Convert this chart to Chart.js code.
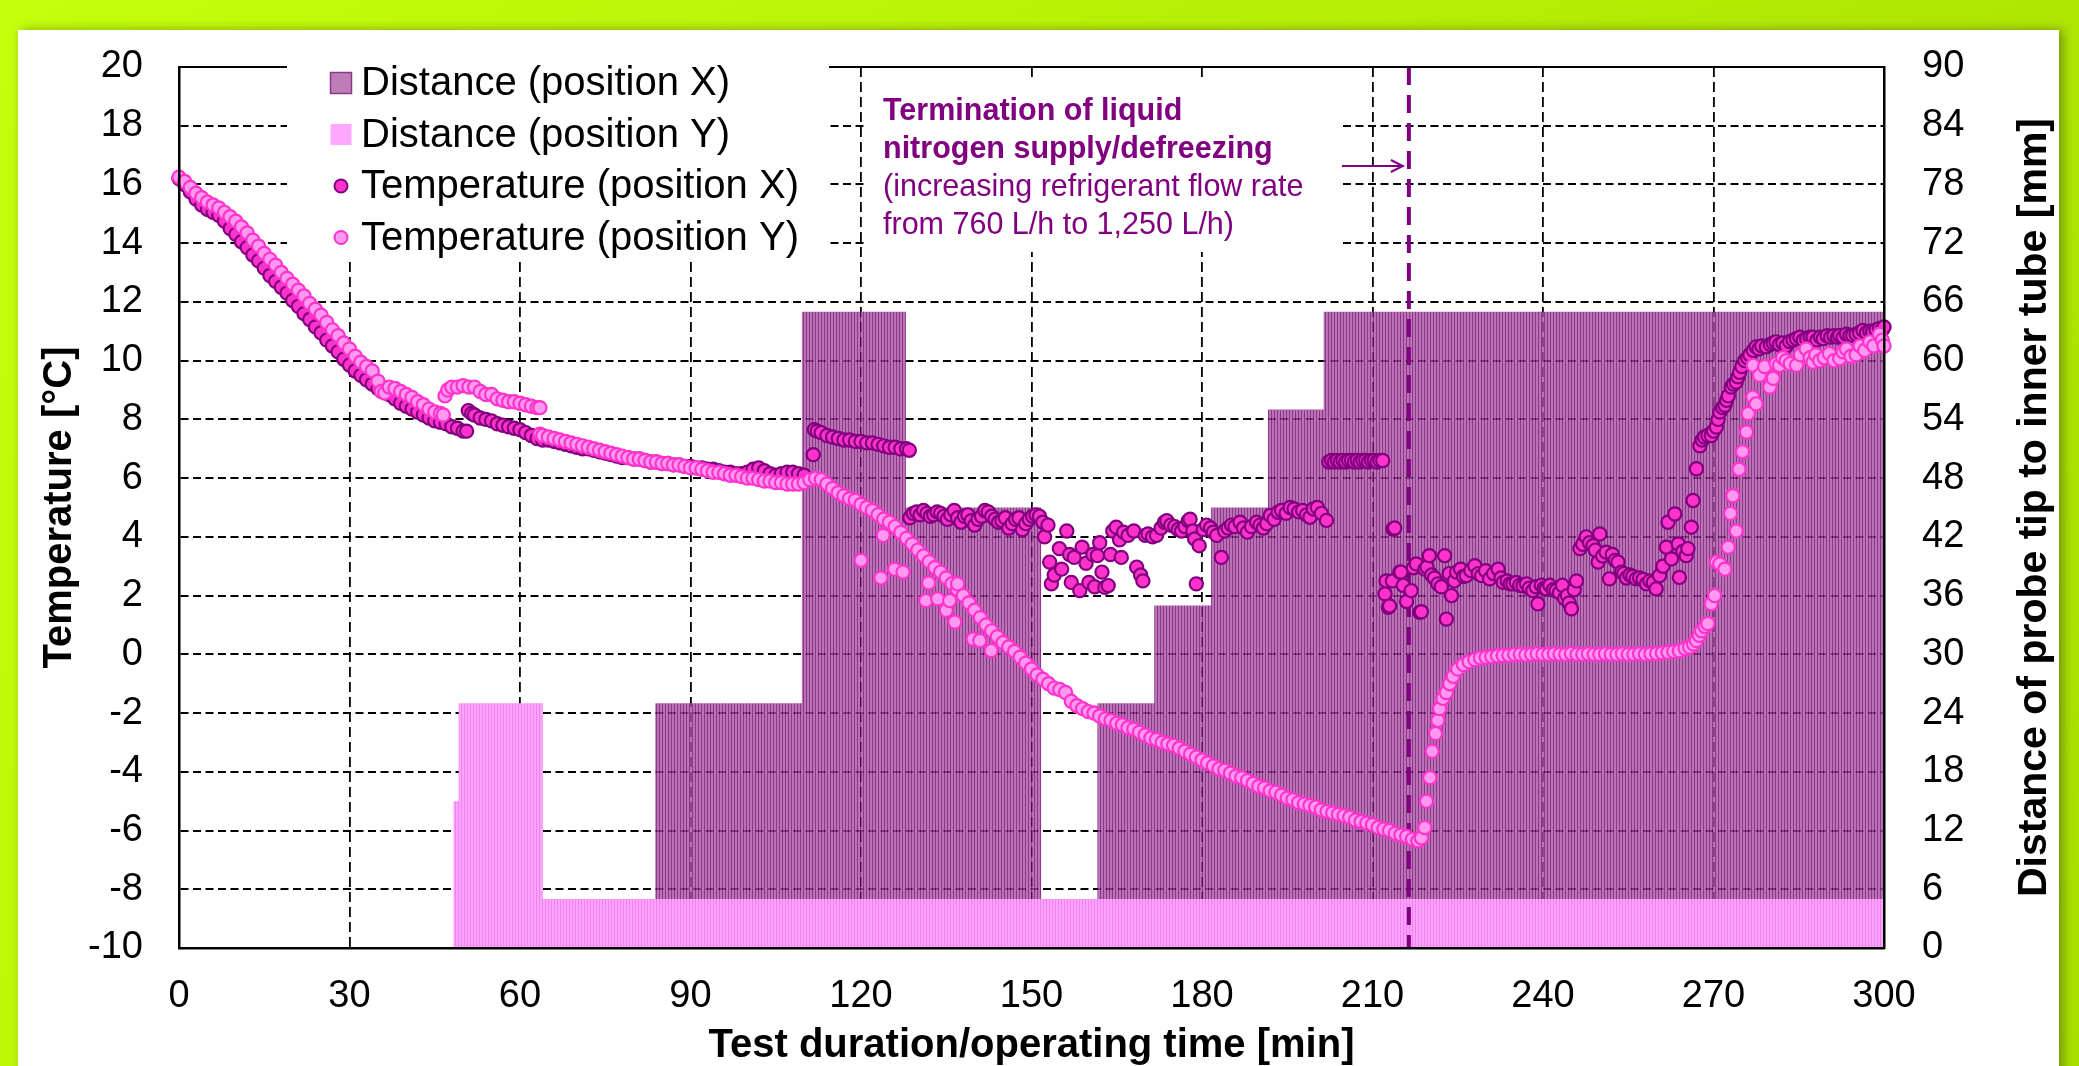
<!DOCTYPE html>
<html>
<head>
<meta charset="utf-8">
<title>Probe temperature and distance</title>
<script src="https://cdn.jsdelivr.net/npm/chart.js@4.4.1/dist/chart.umd.min.js"></script>
<style>
  html, body { margin: 0; padding: 0; background: #b8f000; }
  #wrap { position: relative; width: 2079px; height: 1066px; }
</style>
</head>
<body>
<div id="wrap"><canvas id="chart"></canvas></div>
<script>
// Distance of probe tip to inner tube [mm], step values (value holds until next time)
const distXTime = [0, 83.8, 109.6, 127.9, 151.7, 161.6, 171.6, 181.6, 191.6, 201.4, 300];
const distXmm   = [0, 25,   65,    45,    0,     25,    35,    45,    55,    65,    65];
const distYTime = [0, 48.3, 49.2, 64.0, 300];
const distYmm   = [0, 15,   25,   5,    5];

// End of liquid nitrogen supply [min]
const terminationTime = 216.4;

// Temperature at position X [min, °C]
const tempX = [
  [0,16.2],[1,16.0],[2,15.75],[3,15.5],[4,15.3],[5,15.15],[6,15.05],[7,14.95],[8,14.75],[9,14.5],
  [10,14.3],[11,14.05],[12,13.85],[13,13.6],[14,13.4],[15,13.15],[16,12.9],[17,12.7],[18,12.5],[19,12.3],
  [20,12.05],[21,11.85],[22,11.6],[23,11.4],[24,11.15],[25,10.95],[26,10.7],[27,10.5],[28,10.3],[29,10.05],
  [30,9.85],[31,9.65],[32,9.5],[33,9.35],[34,9.2],[35,9.05],[36,8.95],[37,8.85],[38,8.7],[39,8.55],
  [40,8.45],[41,8.35],[42,8.25],[43,8.15],[44,8.05],[45,7.95],[46,7.9],[47,7.85],[48,7.75],[49,7.7],
  [50,7.6],[50.6,7.6],
  [50.9,8.3],[51.5,8.2],[52,8.15],[53,8.05],[54,8.0],[55,7.95],[56,7.85],[57,7.8],[58,7.75],[59,7.7],
  [60,7.65],[61,7.55],[62,7.45],[63,7.35],[64,7.3],[65,7.3],[66,7.25],[67,7.2],[68,7.15],[69,7.1],
  [70,7.05],[71,7.0],[72,7.0],[73,6.95],[74,6.9],[75,6.85],[76,6.8],[77,6.75],[78,6.7],[79,6.7],
  [80,6.65],[81,6.65],[82,6.6],[83,6.55],[84,6.55],[85,6.5],[86,6.5],[87,6.45],[88,6.45],[89,6.4],
  [90,6.4],[91,6.35],[92,6.35],[93,6.3],[94,6.3],[95,6.25],[96,6.2],[97,6.2],[98,6.15],[99,6.15],
  [100,6.2],[101,6.3],[102,6.35],[103,6.25],[104,6.15],[105,6.1],[106,6.15],[107,6.2],[108,6.2],[109,6.15],
  [110,6.1],[111.6,6.8],
  [111.8,7.65],[112.3,7.6],[113,7.55],[114,7.45],[115,7.4],[116,7.35],[117,7.3],[118,7.3],[119,7.25],
  [120,7.25],[121,7.2],[122,7.2],[123,7.15],[124,7.1],[125,7.05],[126,7.05],[127,7.0],[128,7.0],[128.5,6.95],
  [128.6,4.65],[129.2,4.8],[129.8,4.85],[130.4,4.75],[131,4.9],[131.6,4.8],[132.2,4.7],[132.8,4.75],[133.4,4.85],
  [134,4.8],[134.6,4.7],[135.2,4.6],[135.8,4.75],[136.4,4.9],[137,4.65],[137.6,4.5],[138.2,4.7],[138.8,4.75],
  [139.4,4.55],[140,4.4],[140.6,4.6],[141.2,4.7],[141.8,4.9],[142.4,4.85],[143,4.7],[143.6,4.6],[144.2,4.5],
  [144.8,4.55],[145.4,4.65],[146,4.3],[146.6,4.45],[147.2,4.6],[147.8,4.65],[148.4,4.25],[149,4.45],[149.6,4.6],
  [150.2,4.7],[150.8,4.75],[151.4,4.7],[152,4.5],[152.3,4.0],
  [152.9,4.4],[153.2,3.14],[153.5,2.4],[154,2.7],[154.9,3.6],[155.3,2.9],[156.2,4.2],[156.7,3.4],[157,2.45],
  [157.5,3.3],[158.5,2.17],[158.9,3.65],[159.6,3.1],[160.1,2.45],[160.8,3.4],[161.1,2.3],[161.6,3.36],[162,3.8],
  [162.4,2.8],[162.9,2.28],[163.5,2.34],[163.9,3.4],[164.3,4.2],[164.9,4.33],[165.5,3.9],[165.8,3.3],[166.2,4.16],
  [167,4.05],[168,4.2],[168.5,2.97],[169.2,2.7],[169.6,2.5],[170,4.05],
  [170.5,4.1],[171.3,4.0],[172,4.05],[172.8,4.3],[173.4,4.5],[173.8,4.55],[174.5,4.4],[175.2,4.35],[175.8,4.25],
  [176.4,4.2],[177,4.35],[177.6,4.55],[177.9,4.6],[178.4,4.2],[178.7,3.93],[179,2.4],[179.5,3.7],[180.2,4.25],
  [180.8,4.4],[181.5,4.3],[182,4.16],[182.6,4.05],[183.4,3.3],[184,4.2],[184.6,4.3],[185.2,4.4],[185.8,4.35],
  [186.7,4.5],[187.3,4.3],[188,4.16],[188.7,4.35],[189.6,4.5],[190.2,4.4],[190.8,4.3],[191.4,4.45],[192,4.73],
  [192.7,4.6],[193.4,4.84],[194,4.9],[194.8,4.8],[195.5,5.0],[196.2,4.95],[197,4.85],[197.7,4.9],[198.4,4.75],
  [199,4.67],[199.6,4.95],[200.3,5.0],[201,4.8],[201.9,4.56],
  [202.3,6.55],[202.8,6.6],[203.3,6.55],[203.8,6.6],[204.3,6.55],[204.8,6.6],[205.3,6.55],[205.8,6.6],[206.3,6.6],
  [206.8,6.55],[207.3,6.6],[207.8,6.55],[208.3,6.6],[208.8,6.6],[209.3,6.55],[209.8,6.6],[210.3,6.6],[210.8,6.55],
  [211.3,6.6],[211.8,6.6],
  [213.6,4.27],[213.9,4.3],
  [212.2,2.06],[212.4,2.5],[212.8,1.6],[213,1.65],[213.5,2.5],[214.8,2.8],[215,2.8],[215.4,2.35],[216,1.8],
  [216.8,2.17],[217.2,2.95],[217.7,3.08],[218.3,1.43],[218.6,1.45],[219.2,2.9],[219.6,2.97],[220,3.36],[220.4,2.7],
  [220.9,2.6],[221.5,2.4],[222.1,2.3],[222.7,3.36],[223,1.2],[223.5,2.75],[223.9,2.0],[224.4,2.5],[224.8,2.8],
  [225.5,2.9],[226,2.65],[226.5,2.68],[227.3,2.85],[228,3.02],[228.6,2.75],[229.2,2.68],[229.9,2.85],[230.6,2.57],
  [231.3,2.75],[232.1,2.9],[232.6,2.6],[233,2.45],[233.7,2.5],[234.2,2.4],[234.7,2.4],[235.3,2.45],[235.9,2.35],
  [236.5,2.34],[237.1,2.4],[237.6,2.25],[238.2,2.17],[238.8,2.3],[239.1,1.72],[239.7,2.35],[240.2,2.25],[240.6,2.23],
  [241.2,2.35],[241.8,2.2],[242.3,2.17],[242.9,2.1],[243.4,2.35],[243.8,1.9],[244.3,2.0],[244.6,1.75],[245,1.55],
  [245.5,2.2],[245.9,2.5],[246.5,3.6],[247,3.75],[247.6,4.0],[248.2,3.8],[248.8,3.7],[249.2,3.55],[249.7,3.14],
  [250,4.1],[250.5,3.35],[251.1,3.48],[251.7,2.57],[252.2,3.4],[252.7,3.2],[253.2,3.14],[253.8,2.8],[254.2,2.75],
  [254.7,2.6],[255.3,2.7],[255.8,2.65],[256.4,2.57],[257,2.6],[257.6,2.55],[258.2,2.4],[258.8,2.5],[259.4,2.45],
  [259.9,2.23],[260.5,2.68],[261.1,3.0],[261.7,3.65],[262,4.5],[262.6,3.25],[263.2,4.78],[263.8,3.76],[264,2.62],
  [264.6,3.5],[265.2,3.36],[265.5,3.6],[266.1,4.33],[266.4,5.24],[267,6.32],[267.6,7.1],[268,7.3],[268.4,7.4],
  [269,7.45],[269.6,7.45],[270,7.6],[270.5,7.74],[270.8,8.0],[271.1,8.25],[271.6,8.4],[272,8.48],[272.3,8.65],
  [272.6,8.8],[273.1,9.1],[273.5,9.2],[274,9.27],[274.3,9.45],[274.6,9.6],[275,9.8],[275.5,10.0],[276,10.1],
  [276.4,10.2],[277,10.35],[277.5,10.47],[278,10.4],[278.5,10.5],[279.3,10.47],[280,10.55],[280.5,10.6],[281,10.64],
  [281.6,10.55],[282.2,10.6],[282.8,10.5],[283.4,10.65],[284,10.7],[284.6,10.75],[285.2,10.8],[285.8,10.7],
  [286.4,10.75],[287,10.8],[287.5,10.8],[288.2,10.7],[288.8,10.8],[289.3,10.75],[290,10.85],[290.6,10.8],
  [291.2,10.85],[291.8,10.8],[292.2,10.86],[292.8,10.8],[293.4,10.9],[294,10.85],[294.5,10.86],[295.1,10.9],
  [295.7,10.95],[296.3,11.03],[296.9,10.95],[297.5,11.0],[298,10.98],[298.6,11.05],[299.2,11.1],[299.7,11.05],[300,11.15]
];

// Temperature at position Y [min, °C]
const tempY = [
  [0,16.25],[1,16.1],[2,15.9],[3,15.7],[4,15.55],[5,15.4],[6,15.3],[7,15.2],[8,15.05],[9,14.9],
  [10,14.75],[11,14.55],[12,14.35],[13,14.1],[14,13.9],[15,13.65],[16,13.45],[17,13.25],[18,13.0],[19,12.8],
  [20,12.6],[21,12.4],[22,12.2],[23,11.95],[24,11.75],[25,11.55],[26,11.3],[27,11.05],[28,10.85],[29,10.6],
  [30,10.4],[31,10.15],[32,9.95],[33,9.8],[34,9.65],[35,9.3],[35.6,8.95],[36.2,8.9],[37,9.1],[38,9.05],
  [39,8.95],[40,8.85],[41,8.75],[42,8.6],[43,8.5],[44,8.35],[45,8.25],[46,8.2],[46.5,8.15],
  [46.8,8.8],[47.3,9.0],[48,9.1],[49,9.1],[50,9.15],[51,9.1],[52,9.1],[53,8.95],[54,8.85],[55,8.85],
  [56,8.7],[57,8.65],[58,8.6],[59,8.6],[60,8.55],[61,8.5],[62,8.45],[63,8.4],[63.5,8.4],
  [63.5,7.5],[64,7.45],[65,7.4],[66,7.35],[67,7.3],[68,7.25],[69,7.2],[70,7.15],[71,7.1],[72,7.05],
  [73,7.0],[74,6.95],[75,6.9],[76,6.85],[77,6.8],[78,6.75],[79,6.7],[80,6.65],[81,6.65],[82,6.6],
  [83,6.55],[84,6.55],[85,6.5],[86,6.5],[87,6.45],[88,6.45],[89,6.4],[90,6.35],[91,6.35],[92,6.3],
  [93,6.25],[94,6.2],[95,6.2],[96,6.15],[97,6.1],[98,6.1],[99,6.05],[100,6.0],[101,6.0],[102,5.95],
  [103,5.9],[104,5.9],[105,5.85],[106,5.85],[107,5.8],[108,5.8],[109,5.8],[110,5.85],[111,5.95],[112,6.0],
  [113,5.95],[114,5.8],[115,5.65],[116,5.5],[117,5.4],[118,5.3],[119,5.25],[120,5.1],[121,5.0],[122,4.9],
  [123,4.75],[124,4.6],[125,4.5],[126,4.35],[127,4.15],[128,3.95],[129,3.75],[130,3.55],[131,3.35],[132,3.15],
  [133,2.95],[134,2.8],[135,2.6],[136,2.4],[137,2.2],[138,2.0],[139,1.75],[140,1.5],[141,1.25],[142,1.0],
  [143,0.8],[144,0.6],[145,0.4],[146,0.25],[147,0.1],[148,-0.1],[149,-0.3],[150,-0.5],[151,-0.7],[152,-0.85],
  [153,-1.0],[154,-1.15],[155,-1.2],[156,-1.3],[157,-1.6],[158,-1.75],[159,-1.85],[160,-1.95],[161,-2.0],[162,-2.1],
  [163,-2.2],[164,-2.25],[165,-2.35],[166,-2.4],[167,-2.5],[168,-2.55],[169,-2.65],[170,-2.75],[171,-2.85],[172,-2.9],
  [173,-3.0],[174,-3.05],[175,-3.1],[176,-3.2],[177,-3.3],[178,-3.4],[179,-3.5],[180,-3.6],[181,-3.7],[182,-3.8],
  [183,-3.9],[184,-3.95],[185,-4.05],[186,-4.15],[187,-4.2],[188,-4.3],[189,-4.4],[190,-4.5],[191,-4.55],[192,-4.65],
  [193,-4.7],[194,-4.8],[195,-4.9],[196,-4.95],[197,-5.05],[198,-5.1],[199,-5.15],[200,-5.2],[201,-5.3],[202,-5.35],
  [203,-5.4],[204,-5.45],[205,-5.5],[206,-5.55],[207,-5.65],[208,-5.7],[209,-5.75],[210,-5.8],[211,-5.9],[212,-5.95],
  [213,-6.0],[214,-6.1],[215,-6.15],[216,-6.2],[217,-6.3],[218,-6.35],[218.6,-6.25],
  [219.2,-5.9],[219.5,-5.0],[220.1,-4.2],[220.5,-3.3],[221.1,-2.7],[221.5,-2.25],[221.8,-1.85],[222.4,-1.5],
  [223,-1.3],[223.6,-1.0],[224.2,-0.75],[225,-0.5],[226,-0.35],[227,-0.25],[228,-0.18],[229,-0.12],[230,-0.1],
  [231,-0.08],[232,-0.05],[233,-0.04],[234,-0.03],[235,0.0],[236,0.0],[237,-0.02],[238,0.0],[239,0.02],[240,0.0],
  [241,0.0],[242,0.02],[243,0.0],[244,0.0],[245,0.03],[246,0.0],[247,0.0],[248,0.02],[249,0.0],[250,0.0],
  [251,0.02],[252,0.0],[253,0.0],[254,0.02],[255,0.0],[256,0.0],[257,0.02],[258,0.0],[259,0.02],[260,0.03],
  [261,0.05],[262,0.07],[263,0.1],[264,0.12],[265,0.2],[265.8,0.25],[266.5,0.35],[267,0.47],[267.5,0.65],
  [267.9,0.8],[268.5,0.95],[269,1.05],[269.6,1.72],[270.2,2.0],[270.5,3.14],[271.1,3.08],[272,2.9],[272.6,3.65],
  [273,4.8],[273.4,5.4],[274,4.2],[274.5,6.3],[275.1,6.9],[275.8,7.57],[276.1,8.2],[276.9,8.76],[277.5,8.53],
  [277,9.84],[278.1,9.5],[279,9.8],[279.9,9.1],[280.5,9.4],[281,9.9],[281.6,9.84],[282.2,10.1],[282.8,10.0],
  [283.5,9.9],[284.6,9.84],[285.3,10.2],[286.3,10.4],[287,10.1],[287.5,9.95],[288,10.2],[288.7,10.0],[289.5,10.1],
  [290.4,10.24],[291.2,10.0],[292.2,10.07],[292.8,10.3],[293.4,10.4],[294.2,10.15],[295.1,10.2],[295.8,10.5],
  [296.6,10.35],[297.5,10.64],[298.2,10.5],[299.2,10.9],[299.7,10.7],[300,10.5],
  // scattered readings during the fast cooling phase
  [120,3.2],[123.5,2.6],[123.9,4.05],[125.9,2.9],[127.4,2.8],[131.4,1.83],[131.9,2.43],[133.5,1.89],
  [135,1.5],[135.6,1.83],[136.5,1.1],[137,2.4],[139.7,0.52],[140.9,0.47],[142.9,0.13]
];

const legendLabels = ['Distance (position X)', 'Distance (position Y)', 'Temperature (position X)', 'Temperature (position Y)'];
const noteLines = ['Termination of liquid', 'nitrogen supply/defreezing', '(increasing refrigerant flow rate', 'from 760 L/h to 1,250 L/h)'];

const FONT = "'Liberation Sans', Arial, sans-serif";
const PURPLE = '#800080';
const HOT_PINK = '#ff33cc';
const LIGHT_PINK = '#ff99f0';

// Vertical hatching like the original column fills
function stripes(light, dark) {
  const c = document.createElement('canvas');
  c.width = 3; c.height = 4;
  const g = c.getContext('2d');
  g.fillStyle = light; g.fillRect(0, 0, 2, 4);
  g.fillStyle = dark; g.fillRect(2, 0, 1, 4);
  return g.createPattern(c, 'repeat');
}

const toPoints = (ts, vs) => ts.map((t, i) => ({x: t, y: vs[i]}));
const pairs = arr => arr.map(p => ({x: p[0], y: p[1]}));

const decor = {
  id: 'decor',
  beforeDraw(chart) {
    const {ctx, width, height} = chart;
    ctx.save();
    const g = ctx.createLinearGradient(0, 0, width, height);
    g.addColorStop(0, '#c4ff0c');
    g.addColorStop(1, '#a9e000');
    ctx.fillStyle = g;
    ctx.fillRect(0, 0, width, height);
    ctx.shadowColor = 'rgba(0,0,0,0.35)';
    ctx.shadowBlur = 10;
    ctx.shadowOffsetX = 4;
    ctx.fillStyle = '#fff';
    ctx.fillRect(18, 30, 2041, height);
    ctx.restore();
  },
  afterDatasetDraw(chart, args) {
    // dashed marker line sits above the columns but under the markers
    if (args.index !== 1) return;
    const {ctx, chartArea} = chart;
    const x = chart.scales.x.getPixelForValue(terminationTime);
    ctx.save();
    ctx.strokeStyle = PURPLE;
    ctx.lineWidth = 4;
    ctx.setLineDash([18, 10]);
    ctx.beginPath();
    ctx.moveTo(x, chartArea.top);
    ctx.lineTo(x, chartArea.bottom);
    ctx.stroke();
    ctx.restore();
  },
  afterDatasetsDraw(chart) {
    const {ctx, chartArea} = chart;
    ctx.save();
    // top frame line
    ctx.strokeStyle = '#000';
    ctx.lineWidth = 2;
    ctx.beginPath();
    ctx.moveTo(chartArea.left, chartArea.top);
    ctx.lineTo(chartArea.right, chartArea.top);
    ctx.stroke();

    // legend box
    ctx.fillStyle = '#fff';
    ctx.fillRect(287, 56, 542, 206);
    const rows = [83, 134.5, 186, 237.5];
    ctx.font = '40px ' + FONT;
    ctx.textBaseline = 'middle';
    ctx.textAlign = 'left';
    rows.forEach((y, i) => {
      if (i === 0) {
        ctx.fillStyle = '#be7cb8'; ctx.fillRect(330.5, y - 10.5, 21, 21);
        ctx.strokeStyle = '#8a3a86'; ctx.lineWidth = 1.5; ctx.strokeRect(330.5, y - 10.5, 21, 21);
      } else if (i === 1) {
        ctx.fillStyle = '#ffa8ff'; ctx.fillRect(330.5, y - 10.5, 21, 21);
      } else {
        ctx.beginPath();
        ctx.arc(341, y, 6.5, 0, Math.PI * 2);
        ctx.fillStyle = i === 2 ? HOT_PINK : LIGHT_PINK;
        ctx.fill();
        ctx.lineWidth = 2;
        ctx.strokeStyle = i === 2 ? PURPLE : HOT_PINK;
        ctx.stroke();
      }
      ctx.fillStyle = '#000';
      ctx.fillText(legendLabels[i], 361, y + 1);
    });

    // annotation box
    ctx.fillStyle = '#fff';
    ctx.fillRect(866, 78, 474, 174);
    ctx.fillStyle = PURPLE;
    const noteY = [112, 150, 188, 226];
    noteLines.forEach((t, i) => {
      ctx.font = (i < 2 ? 'bold ' : '') + '30.5px ' + FONT;
      ctx.fillText(t, 883, noteY[i]);
    });

    // arrow pointing at the termination line
    const xt = chart.scales.x.getPixelForValue(terminationTime);
    ctx.strokeStyle = PURPLE;
    ctx.lineWidth = 2;
    ctx.beginPath();
    ctx.moveTo(1342, 166);
    ctx.lineTo(xt - 6, 166);
    ctx.moveTo(xt - 18, 160);
    ctx.lineTo(xt - 6, 166);
    ctx.lineTo(xt - 18, 172);
    ctx.stroke();
    ctx.restore();
  },
  afterDraw(chart) {
    // right axis title reads bottom-to-top like the left one
    const {ctx, chartArea} = chart;
    ctx.save();
    ctx.translate(2035, (chartArea.top + chartArea.bottom) / 2);
    ctx.rotate(-Math.PI / 2);
    ctx.font = 'bold 41px ' + FONT;
    ctx.fillStyle = '#000';
    ctx.textAlign = 'center';
    ctx.textBaseline = 'middle';
    ctx.fillText('Distance of probe tip to inner tube [mm]', 0, 0);
    ctx.restore();
  }
};

Chart.defaults.font.family = FONT;
Chart.defaults.color = '#000';

new Chart(document.getElementById('chart'), {
  type: 'line',
  data: {
    datasets: [
      {
        label: legendLabels[0],
        data: toPoints(distXTime, distXmm),
        yAxisID: 'y1',
        stepped: true,
        fill: 'origin',
        backgroundColor: stripes('rgba(170,78,163,0.8)', 'rgba(111,9,106,0.8)'),
        borderWidth: 0,
        pointRadius: 0,
        order: 3
      },
      {
        label: legendLabels[1],
        data: toPoints(distYTime, distYmm),
        yAxisID: 'y1',
        stepped: true,
        fill: 'origin',
        backgroundColor: stripes('rgb(253,162,253)', 'rgb(238,130,238)'),
        borderWidth: 0,
        pointRadius: 0,
        order: 2
      },
      {
        type: 'scatter',
        label: legendLabels[2],
        data: pairs(tempX),
        yAxisID: 'y',
        showLine: false,
        pointRadius: 6.6,
        pointBorderWidth: 2.2,
        pointBackgroundColor: HOT_PINK,
        pointBorderColor: PURPLE,
        clip: false,
        order: 1
      },
      {
        type: 'scatter',
        label: legendLabels[3],
        data: pairs(tempY),
        yAxisID: 'y',
        showLine: false,
        pointRadius: 6.6,
        pointBorderWidth: 2.2,
        pointBackgroundColor: LIGHT_PINK,
        pointBorderColor: HOT_PINK,
        clip: false,
        order: 0
      }
    ]
  },
  options: {
    responsive: true,
    maintainAspectRatio: false,
    animation: false,
    events: [],
    layout: { padding: { top: 67, left: 0, right: 0, bottom: 0 } },
    plugins: { legend: { display: false }, tooltip: { enabled: false } },
    scales: {
      x: {
        type: 'linear',
        min: 0,
        max: 300,
        afterFit: s => { s.height = 118; },
        ticks: { stepSize: 30, padding: 26, color: '#000', font: { size: 38 } },
        grid: { color: '#000', lineWidth: 1.8, drawTicks: false },
        border: { display: true, color: '#000', width: 2.5, dash: [10, 5], z: 1 },
        title: {
          display: true,
          text: 'Test duration/operating time [min]',
          color: '#000',
          font: { size: 40, weight: 'bold' },
          padding: { top: 0, bottom: -4 }
        }
      },
      y: {
        position: 'left',
        min: -10,
        max: 20,
        afterFit: s => { s.width = 179; },
        ticks: { stepSize: 2, padding: 36, color: '#000', font: { size: 38 } },
        grid: { color: '#000', lineWidth: 2, drawTicks: false },
        border: { display: true, color: '#000', width: 2.5, dash: [8, 4.5], z: 1 },
        title: {
          display: true,
          text: 'Temperature [°C]',
          color: '#000',
          font: { size: 40, weight: 'bold' },
          padding: { top: 36, bottom: 0 }
        }
      },
      y1: {
        position: 'right',
        min: 0,
        max: 90,
        afterFit: s => { s.width = 195; },
        ticks: { stepSize: 6, padding: 38, color: '#000', font: { size: 38 } },
        grid: { display: false, drawTicks: false },
        border: { display: true, color: '#000', width: 2.5, z: 1 }
      }
    }
  },
  plugins: [decor]
});
</script>
</body>
</html>
